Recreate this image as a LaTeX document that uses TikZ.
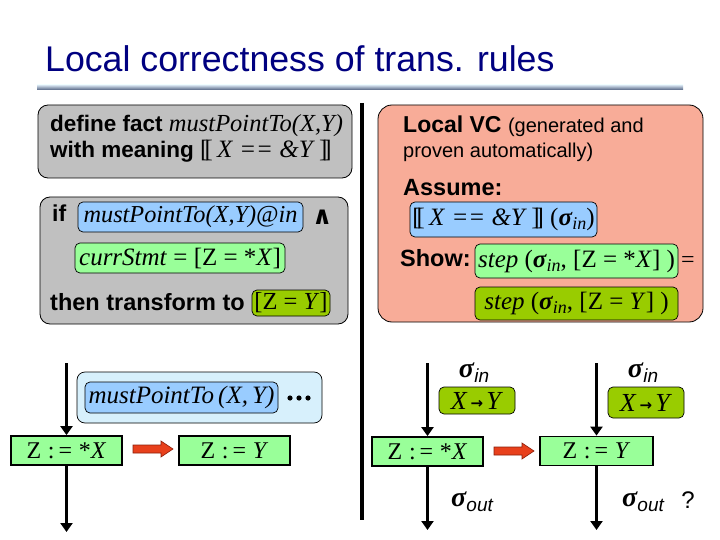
\documentclass[tikz,border=0pt]{standalone}
\usepackage{fontspec}
\setmainfont{Liberation Sans}
\newfontfamily\tms{Liberation Serif}
\newfontfamily\dvs{DejaVu Sans}
\usetikzlibrary{arrows.meta}
\definecolor{navy}{RGB}{0,0,128}
\definecolor{silverc}{RGB}{192,192,192}
\definecolor{bluec}{RGB}{153,204,255}
\definecolor{greenc}{RGB}{153,255,153}
\definecolor{olivec}{RGB}{153,204,0}
\definecolor{salmonc}{RGB}{248,172,152}
\definecolor{palec}{RGB}{215,240,252}
\definecolor{redc}{RGB}{232,64,28}
\newcommand\lbb{[\kern-0.16em[}
\newcommand\rbb{]\kern-0.16em]}
\newcommand\sgm[4]{{\fontsize{#1}{#1}\selectfont\tms\bfseries\itshape σ}\kern0.3pt\raisebox{-#3pt}{\fontsize{#2}{#2}\selectfont\itshape #4}}
\newcommand\fs[1]{\fontsize{#1}{#1}\selectfont}
\newcommand\pto{\kern3pt{\dvs\bfseries\fs{15}\raisebox{1pt}{→}}\kern3pt}
\tikzset{
  panel/.style={draw=black, line width=0.8pt, rounded corners=10pt},
  inbox/.style={draw=black, line width=0.7pt, rounded corners=5pt, inner sep=0pt},
  stmt/.style={draw=black, line width=1.8pt, fill=greenc, inner sep=0pt, minimum height=29, font=\tms\fs{24}},
  flow/.style={line width=3.5pt, -{Triangle[width=12pt,length=9pt]}},
  redarrow/.style={fill=redc, draw={rgb,255:red,140;green,30;blue,10}, line width=0.6pt},
  txt/.style={inner sep=0pt, anchor=base west}
}
\begin{document}
\begin{tikzpicture}[x=1pt,y=-1pt]
\useasboundingbox (0,0) rectangle (720,540);
% title
\node[txt, text=navy, font=\fs{35.7}] (title) at (45,72) {Local correctness of trans. rules};
\shade[top color={rgb,255:red,215;green,228;blue,240}, bottom color={rgb,255:red,80;green,96;blue,128}] (37,85) rectangle (683,90);
% divider
\draw[line width=4pt] (362,103) -- (362,520);
% left panels
\draw[panel, fill=silverc] (38,105) rectangle (352,178);
\node[txt, font=\bfseries\fs{22.5}] (def1) at (50,132) {define fact {\tms\mdseries\itshape\fs{24.5}mustPointTo(X,Y)}};
\node[txt, font=\bfseries\fs{22.5}] (def2) at (50,158) {with meaning {\tms\mdseries\fs{25}\lbb\,\textit{X} \textit{==} \textit{\&Y}\,\rbb}};
\draw[panel, fill=silverc] (40,197) rectangle (348,324);
\node[txt, font=\bfseries\fs{23}] (if) at (52,222) {if};
\node[inbox, fill=bluec, minimum width=225, minimum height=30, font=\tms\itshape\fs{24.3}] (m1) at (190.5,217) {mustPointTo(X,Y)@in};
\node[txt, font=\dvs\bfseries\fs{25}] (and) at (312,225) {∧};
\node[inbox, fill=greenc, minimum width=210, minimum height=30, font=\tms\fs{25}] (c1) at (180,258) {\textit{currStmt} = [Z = *\textit{X}]};
\node[txt, font=\bfseries\fs{23.5}] (then) at (50,310) {then transform to};
\node[inbox, fill=olivec, minimum width=78, minimum height=26, font=\tms\fs{24.5}] (t1) at (291,303) {[Z = \textit{Y}]};
% right panel
\draw[panel, fill=salmonc, rounded corners=14pt] (378,105) rectangle (703,322);
\node[txt, font=\bfseries\fs{23}] (lvc) at (403,133) {Local VC {\mdseries\fs{20}(generated and}};
\node[txt, font=\fs{20}] (pa) at (403,158) {proven automatically)};
\node[txt, font=\bfseries\fs{23.5}] (as) at (403,196) {Assume:};
\node[inbox, fill=bluec, minimum width=187, minimum height=35, font=\tms\fs{25}] (a1) at (503.5,219.5) {\lbb\,\textit{X} \textit{==} \textit{\&Y}\,\rbb\ (\sgm{25}{18}{4}{in})};
\node[txt, font=\bfseries\fs{23.5}] (sh) at (400,266) {Show:};
\node[inbox, fill=greenc, minimum width=203, minimum height=34, font=\tms\fs{25}] (g1) at (576.5,261) {\textit{step} (\sgm{25}{18}{4}{in}, [Z = *\textit{X}] )};
\node[txt, font=\tms\fs{24}] (eq) at (681,267) {=};
\node[inbox, fill=olivec, minimum width=203, minimum height=33, font=\tms\fs{25}] (g2) at (576.5,303.5) {\textit{step} (\sgm{25}{18}{4}{in}, [Z = \textit{Y}] )};
% bottom left
\node[inbox, fill=palec, rounded corners=8pt, minimum width=245, minimum height=51] (pale) at (199.5,397.5) {};
\node[inbox, fill=bluec, minimum width=193, minimum height=31, font=\tms\itshape\fs{25}] (m2) at (181.5,397.5) {mustPointTo\,(X,\,Y)};
\foreach \xx in {290,299,308} \fill (\xx,398) circle (2.6);
\node[stmt, minimum width=111] (s1) at (66.5,450.5) {Z\;:\,=\;*\textit{X}};
\node[stmt, minimum width=111] (s2) at (234.5,450.5) {Z\;:\,=\;\textit{Y}};
\coordinate (a1t) at (66.5,363);
\coordinate (a1b) at (66.5,532);
\draw[flow] (a1t) -- (s1.north);
\draw[flow] (s1.south) -- (a1b);
\draw[redarrow] (133,445) -- (161,445) -- (161,441) -- (173,449) -- (161,457) -- (161,453) -- (133,453) -- cycle;
% bottom right
\node[stmt, minimum width=111] (s3) at (427.5,451.5) {Z\;:\,=\;*\textit{X}};
\node[stmt, minimum width=113] (s4) at (596.5,451) {Z\;:\,=\;\textit{Y}};
\coordinate (a3t) at (427.5,363);
\coordinate (a3b) at (427.5,530);
\coordinate (a4t) at (596.5,363);
\coordinate (a4b) at (596.5,530);
\draw[flow] (a3t) -- (s3.north);
\draw[flow] (s3.south) -- (a3b);
\draw[flow] (a4t) -- (s4.north);
\draw[flow] (s4.south) -- (a4b);
\draw[redarrow] (494,447) -- (522,447) -- (522,443) -- (534,451) -- (522,459) -- (522,455) -- (494,455) -- cycle;
\node[inbox, fill=olivec, minimum width=76, minimum height=27, font=\tms\fs{26}] (o1) at (477,400.5) {\textit{X}\pto\textit{Y}};
\node[inbox, fill=olivec, minimum width=76, minimum height=31, font=\tms\fs{26}] (o2) at (646,402.5) {\textit{X}\pto\textit{Y}};
\node[inner sep=0pt] (si1) at (474,373) {\sgm{28}{19}{5}{in}};
\node[inner sep=0pt] (si2) at (643,373) {\sgm{28}{19}{5}{in}};
\node[inner sep=0pt] (so1) at (472,502) {\sgm{28}{19}{5}{out}};
\node[inner sep=0pt] (so2) at (643,502) {\sgm{28}{19}{5}{out}};
\node[inner sep=0pt, font=\fs{24}] (q) at (688,500) {?};
\end{tikzpicture}
\end{document}
